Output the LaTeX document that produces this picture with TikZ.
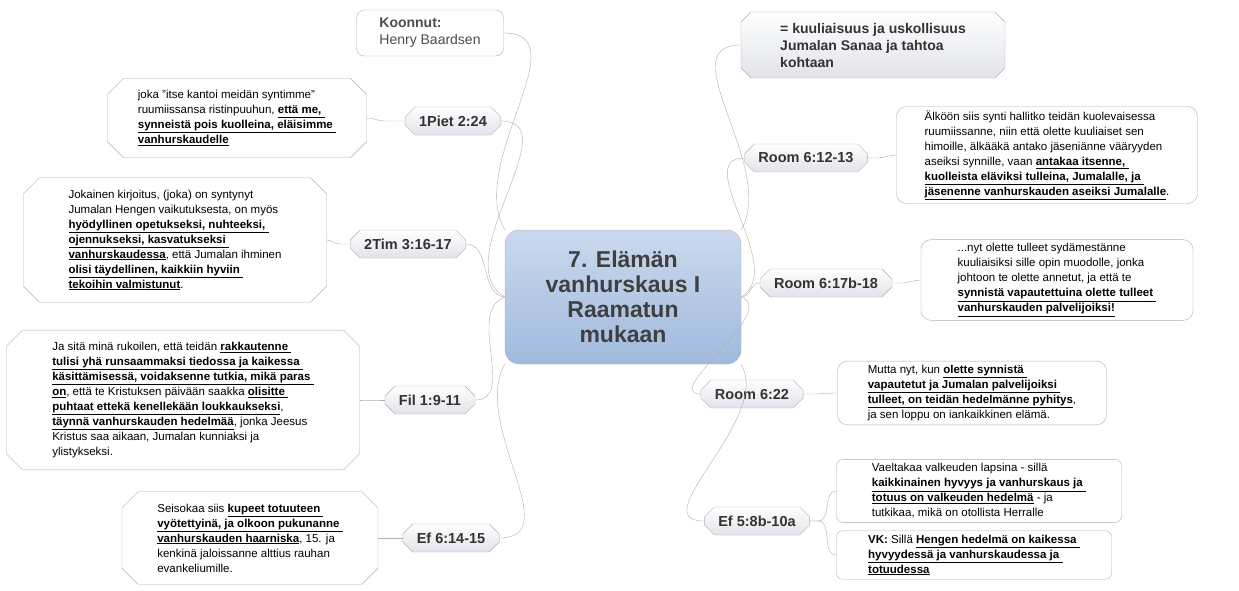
\documentclass[tikz,border=0pt]{standalone}
\usepackage{fontspec}
\setmainfont{Liberation Sans}
\usetikzlibrary{shapes.misc}
\definecolor{linegray}{RGB}{175,175,175}
\definecolor{topicgray}{RGB}{225,227,233}
\definecolor{centerblue}{RGB}{160,186,222}
\newcommand{\ub}[1]{\underline{\textbf{#1}}}
\tikzset{
  topic/.style={chamfered rectangle, chamfered rectangle xsep=2pt, chamfered rectangle sep=5pt,
    draw=linegray, top color=white, bottom color=topicgray, font=\fontsize{14.5}{17}\selectfont\bfseries,
    text=black!80, minimum height=28pt, inner xsep=9pt},
  leafc/.style={chamfered rectangle, chamfered rectangle sep=8pt, draw=linegray, fill=white,
    align=left, font=\fontsize{11.5}{15}\selectfont, inner xsep=6pt, inner ysep=4pt},
  leafr/.style={rounded corners=10pt, draw=linegray, fill=white,
    align=left, font=\fontsize{11.5}{15}\selectfont, inner xsep=8pt, inner ysep=4pt},
  branch/.style={draw=linegray, thin},
}
\begin{document}
\begin{tikzpicture}[x=1pt,y=-1pt]
  \useasboundingbox (0,0) rectangle (1239,590);

  % center
  \node[rounded corners=14pt, draw=linegray, top color=centerblue!55, bottom color=centerblue,
    minimum width=236pt, minimum height=134pt, align=center, text=black!75,
    font=\fontsize{23}{25}\selectfont\bfseries] (center) at (623,297)
    {7. Elämän\\vanhurskaus I\\Raamatun\\mukaan};

  % topics left
  \node[topic] (piet) at (453,121) {1Piet 2:24};
  \node[topic] (tim) at (408,244) {2Tim 3:16-17};
  \node[topic] (fil) at (430,400) {Fil 1:9-11};
  \node[topic] (efl) at (451,538) {Ef 6:14-15};
  % topics right
  \node[topic] (r1213) at (806,158) {Room 6:12-13};
  \node[topic] (r1718) at (826,283) {Room 6:17b-18};
  \node[topic] (r622) at (752,394) {Room 6:22};
  \node[topic] (efr) at (757,521) {Ef 5:8b-10a};

  % top
  \node[rounded corners=8pt, draw=linegray, fill=white, align=left, text=black!70,
    font=\fontsize{14}{17}\selectfont, minimum width=147pt, minimum height=46pt] (author) at (430,33)
    {\textbf{Koonnut:}\\Henry Baardsen};
  \node[topic, align=left, minimum width=264pt, minimum height=66pt, font=\fontsize{14}{17}\selectfont\bfseries] (def) at (873,45)
    {= kuuliaisuus ja uskollisuus\\Jumalan Sanaa ja tahtoa\\kohtaan};

  % leaves left
  \node[leafc, minimum width=259pt] (tpiet) at (237,118)
    {joka "itse kantoi meidän syntimme"\\ruumiissansa ristinpuuhun, \ub{että me, }\\\ub{synneistä pois kuolleina, eläisimme }\\\ub{vanhurskaudelle}};
  \node[leafc, minimum width=303pt] (ttim) at (175,240)
    {Jokainen kirjoitus, (joka) on syntynyt\\Jumalan Hengen vaikutuksesta, on myös\\\ub{hyödyllinen opetukseksi, nuhteeksi, }\\\ub{ojennukseksi, kasvatukseksi }\\\ub{vanhurskaudessa}, että Jumalan ihminen\\\ub{olisi täydellinen, kaikkiin hyviin }\\\ub{tekoihin valmistunut}.};
  \node[leafc, minimum width=353pt] (tfil) at (183,400)
    {Ja sitä minä rukoilen, että teidän \ub{rakkautenne }\\\ub{tulisi yhä runsaammaksi tiedossa ja kaikessa }\\\ub{käsittämisessä, voidaksenne tutkia, mikä paras }\\\ub{on}, että te Kristuksen päivään saakka \ub{olisitte }\\\ub{puhtaat ettekä kenellekään loukkaukseksi}, \\\ub{täynnä vanhurskauden hedelmää}, jonka Jeesus\\Kristus saa aikaan, Jumalan kunniaksi ja\\ylistykseksi.};
  \node[leafc, minimum width=256pt] (tefl) at (250,538)
    {Seisokaa siis \ub{kupeet totuuteen }\\\ub{vyötettyinä, ja olkoon pukunanne }\\\ub{vanhurskauden haarniska}, 15. ja\\kenkinä jaloissanne alttius rauhan\\evankeliumille.};

  % leaves right
  \node[leafr, minimum width=301pt] (t1213) at (1047,155)
    {Älköön siis synti hallitko teidän kuolevaisessa\\ruumiissanne, niin että olette kuuliaiset sen\\himoille, älkääkä antako jäseniänne vääryyden\\aseiksi synnille, vaan \ub{antakaa itsenne, }\\\ub{kuolleista eläviksi tulleina, Jumalalle, ja }\\\ub{jäsenenne vanhurskauden aseiksi Jumalalle}.};
  \node[leafr, minimum width=272pt] (t1718) at (1057,280)
    {...nyt olette tulleet sydämestänne\\kuuliaisiksi sille opin muodolle, jonka\\johtoon te olette annetut, ja että te\\\ub{synnistä vapautettuina olette tulleet }\\\ub{vanhurskauden palvelijoiksi!}};
  \node[leafr, minimum width=269pt] (t622) at (972,393)
    {Mutta nyt, kun \ub{olette synnistä }\\\ub{vapautetut ja Jumalan palvelijoiksi }\\\ub{tulleet, on teidän hedelmänne pyhitys},\\ja sen loppu on iankaikkinen elämä.};
  \node[leafr, rounded corners=6pt, minimum width=285pt] (tefa) at (979,491)
    {Vaeltakaa valkeuden lapsina - sillä\\\ub{kaikkinainen hyvyys ja vanhurskaus ja }\\\ub{totuus on valkeuden hedelmä} - ja\\tutkikaa, mikä on otollista Herralle};
  \node[leafr, rounded corners=6pt, minimum width=275pt] (tefb) at (974,555)
    {\textbf{VK:} Sillä \ub{Hengen hedelmä on kaikessa }\\\ub{hyvyydessä ja vanhurskaudessa ja }\\\ub{totuudessa}};

  % branches from center
  \draw[branch] (center.north west) to[out=120,in=0] (author.east);
  \draw[branch] (center.north east) to[out=60,in=180] (def.west);
  \draw[branch] (center.west) to[out=150,in=0] (piet.east);
  \draw[branch] (center.west) to[out=175,in=0] (tim.east);
  \draw[branch] (center.west) to[out=200,in=0] (fil.east);
  \draw[branch] (center.south west) to[out=240,in=0] (efl.east);
  \draw[branch] (center.east) to[out=30,in=180] (r1213.west);
  \draw[branch] (center.east) to[out=0,in=180] (r1718.west);
  \draw[branch] (center.east) to[out=-20,in=180] (r622.west);
  \draw[branch] (center.south east) to[out=-60,in=180] (efr.west);

  % branches to leaves
  \draw[branch] (piet.west) -- ++(-20,0) to[out=180,in=0] (tpiet.east);
  \draw[branch] (tim.west) -- ++(-10,0) to[out=180,in=0] (ttim.east);
  \draw[branch] (fil.west) -- ++(-10,0) to[out=180,in=0] (tfil.east);
  \draw[branch] (efl.west) -- ++(-10,0) to[out=180,in=0] (tefl.east);
  \draw[branch] (r1213.east) -- ++(10,0) to[out=0,in=180] (t1213.west);
  \draw[branch] (r1718.east) -- ++(10,0) to[out=0,in=180] (t1718.west);
  \draw[branch] (r622.east) -- ++(10,0) to[out=0,in=180] (t622.west);
  \draw[branch] (efr.east) -- ++(8,0) to[out=0,in=180] (tefa.west);
  \draw[branch] (efr.east) -- ++(8,0) to[out=0,in=180] (tefb.west);
\end{tikzpicture}
\end{document}
